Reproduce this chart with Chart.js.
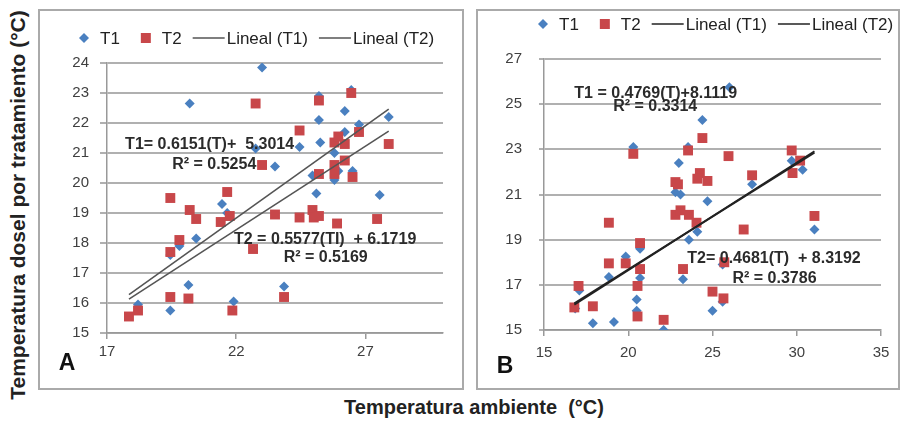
<!DOCTYPE html>
<html>
<head>
<meta charset="utf-8">
<script src="https://cdn.jsdelivr.net/npm/chart.js@4.4.1/dist/chart.umd.min.js"></script>
<style>
body { margin:0; width:901px; height:421px; background:#fff; position:relative; overflow:hidden; font-family:"Liberation Sans", Arial, sans-serif; }
.panel { position:absolute; top:9px; height:381px; border:2px solid #aaaaaa; box-sizing:border-box; }
#panelA { left:38px; width:426px; }
#panelB { left:476px; width:424px; }
.panel canvas { position:absolute; left:0; top:0; }
.tag { position:absolute; font-weight:bold; font-size:23px; color:#111; transform:translate(-50%,-50%); }
#ytitle { position:absolute; left:18px; top:205px; transform:translate(-50%,-50%) rotate(-90deg); white-space:pre; font-weight:bold; font-size:21px; color:#222; }
#xtitle { position:absolute; left:474px; top:407px; transform:translate(-50%,-50%); white-space:pre; font-weight:bold; font-size:20px; color:#222; }
</style>
</head>
<body>
<div id="panelA" class="panel"><canvas id="chartA" width="422" height="377"></canvas></div>
<div id="panelB" class="panel"><canvas id="chartB" width="420" height="377"></canvas></div>
<div class="tag" style="left:67px;top:362px">A</div>
<div class="tag" style="left:505px;top:365px">B</div>
<div id="ytitle">Temperatura dosel por tratamiento (°C)</div>
<div id="xtitle">Temperatura ambiente  (°C)</div>
<script>
// ---------- panel A data ----------
var ambA_T1 = [23.0, 20.2, 25.2, 26.45, 26.2, 27.9, 25.2, 26.75, 25.25, 26.2, 22.75, 24.45, 23.5, 25.8, 25.95,
    26.5, 25.8, 24.95, 25.1, 27.55, 21.45, 21.65, 20.45, 19.8, 19.45, 20.15, 18.2, 19.45, 21.9, 23.85];
var doselA_T1 = [23.85, 22.65, 22.9, 23.1, 22.4, 22.2, 22.1, 21.95, 21.35, 21.7, 21.15, 21.2, 20.55, 21.0, 20.4,
    20.4, 20.1, 20.25, 19.65, 19.6, 19.3, 19.0, 18.15, 17.9, 17.6, 16.6, 15.95, 15.75, 16.05, 16.55];
var ambA_T2 = [22.75, 25.2, 26.45, 24.45, 26.75, 27.9, 25.8, 25.95, 26.2, 23.0, 25.8, 26.2, 25.8, 25.2, 26.5,
    19.45, 21.65, 20.2, 20.45, 21.4, 21.75, 19.8, 19.45, 22.65, 23.5, 24.45, 24.95, 25.0, 25.2, 25.9,
    27.45, 19.45, 20.15, 21.85, 18.2, 17.85, 23.85];
var doselA_T2 = [22.65, 22.75, 23.0, 21.75, 21.7, 21.3, 21.35, 21.55, 21.3, 20.6, 20.6, 20.75, 20.3, 20.3, 20.2,
    19.5, 19.7, 19.1, 18.8, 18.7, 18.9, 18.1, 17.7, 17.8, 18.95, 18.85, 19.1, 18.85, 18.9, 18.65,
    18.8, 16.2, 16.15, 15.75, 15.75, 15.55, 16.2];
var fitA_T1 = [0.6151, 5.3014];   // slope, intercept
var fitA_T2 = [0.5577, 6.1719];
var xTicksA = [17, 22, 27];
var yTicksA = [15, 16, 17, 18, 19, 20, 21, 22, 23, 24];

// ---------- panel B data ----------
var ambB_T1 = [26.0, 24.4, 20.3, 23.0, 23.55, 29.7, 30.35, 27.35, 22.8, 23.1, 24.7, 31.05, 23.6, 24.1, 19.85,
    20.7, 18.85, 20.7, 23.25, 17.1, 20.5, 20.5, 16.85, 17.9, 19.15, 22.1, 25.0, 25.6, 25.6];
var doselB_T1 = [25.75, 24.3, 23.1, 22.4, 23.1, 22.5, 22.1, 21.45, 21.1, 21.0, 20.7, 19.45, 19.0, 19.35, 18.25,
    18.6, 17.35, 17.3, 17.25, 16.75, 16.35, 15.85, 15.95, 15.3, 15.35, 15.0, 15.85, 16.25, 17.9];
var ambB_T2 = [20.3, 23.55, 24.4, 25.95, 29.7, 30.2, 29.75, 27.35, 22.8, 22.95, 24.25, 24.1, 24.7, 22.8, 23.1,
    23.6, 24.05, 26.85, 31.05, 18.85, 20.7, 18.85, 19.85, 20.7, 23.25, 20.55, 17.05, 16.8, 17.9, 20.55,
    22.1, 25.0, 25.65, 25.7];
var doselB_T2 = [22.8, 22.95, 23.5, 22.7, 22.95, 22.5, 21.95, 21.85, 21.55, 21.45, 21.95, 21.7, 21.6, 20.1, 20.3,
    20.1, 19.75, 19.45, 20.05, 19.75, 18.85, 17.95, 17.95, 17.7, 17.7, 16.95, 16.95, 16.0, 16.05, 15.6,
    15.45, 16.7, 16.4, 18.0];
var fitB_T1 = [0.4769, 8.1119];
var fitB_T2 = [0.4681, 8.3192];
var xTicksB = [15, 20, 25, 30, 35];
var yTicksB = [15, 17, 19, 21, 23, 25, 27];

var FONT = '"Liberation Sans", Arial, sans-serif';
var BLUE = '#4a80c0';
var RED = '#c8474a';

function pairs (xs, ys) {
    return xs.map(function (x, i) { return { x: x, y: ys[i] }; });
}

// trend line over the ambient range of the panel
function trend (fit, xsA, xsB) {
    var all = xsA.concat(xsB);
    var lo = Math.min.apply(null, all), hi = Math.max.apply(null, all);
    return [{ x: lo, y: fit[0] * lo + fit[1] }, { x: hi, y: fit[0] * hi + fit[1] }];
}

// Excel like legend drawn along the top of the panel
var excelLegend = {
    id: 'excelLegend',
    afterDraw: function (chart, args, opts) {
        var ctx = chart.ctx;
        var x = opts.x, y = opts.y;
        ctx.save();
        ctx.font = '17px ' + FONT;
        ctx.textBaseline = 'middle';
        chart.data.datasets.forEach(function (ds, i) {
            var w = ctx.measureText(ds.label).width;
            if (ds.showLine) {
                x += 11;
                ctx.strokeStyle = ds.borderColor;
                ctx.lineWidth = 1.5;
                ctx.beginPath();
                ctx.moveTo(x, y);
                ctx.lineTo(x + 32, y);
                ctx.stroke();
                ctx.fillStyle = '#222';
                ctx.fillText(ds.label, x + 34, y + 1);
                x += 34 + w;
            } else {
                if (i > 0) x += 21;
                ctx.fillStyle = ds.backgroundColor;
                ctx.beginPath();
                if (ds.pointStyle === 'rectRot') {
                    ctx.moveTo(x + 5, y - 5); ctx.lineTo(x + 10, y);
                    ctx.lineTo(x + 5, y + 5); ctx.lineTo(x, y);
                } else {
                    ctx.rect(x, y - 5, 10, 10);
                }
                ctx.fill();
                ctx.fillStyle = '#222';
                ctx.fillText(ds.label, x + 21, y + 1);
                x += 21 + w;
            }
        });
        ctx.restore();
    }
};

// regression equations written over the plot
var equations = {
    id: 'equations',
    afterDraw: function (chart, args, opts) {
        var ctx = chart.ctx;
        var xs = chart.scales.x, ys = chart.scales.y;
        ctx.save();
        ctx.font = 'bold 16px ' + FONT;
        ctx.fillStyle = '#2b2b2b';
        ctx.textAlign = 'center';
        ctx.textBaseline = 'middle';
        opts.labels.forEach(function (l) {
            ctx.fillText(l.text, xs.getPixelForValue(l.x), ys.getPixelForValue(l.y));
        });
        ctx.restore();
    }
};

function makePanel (id, p) {
    var ctx = document.getElementById(id).getContext('2d');
    return new Chart(ctx, {
        type: 'scatter',
        data: {
            datasets: [
                { label: 'T1', data: pairs(p.x1, p.y1), pointStyle: 'rectRot', pointRadius: 5,
                  backgroundColor: BLUE, borderWidth: 0, order: 3 },
                { label: 'T2', data: pairs(p.x2, p.y2), pointStyle: 'rect', pointRadius: 7,
                  backgroundColor: RED, borderWidth: 0, order: 2 },
                { label: 'Lineal (T1)', data: trend(p.fit1, p.x1, p.x2), showLine: true, pointRadius: 0,
                  borderColor: p.lineColor, borderWidth: p.lineWidth, order: 1 },
                { label: 'Lineal (T2)', data: trend(p.fit2, p.x1, p.x2), showLine: true, pointRadius: 0,
                  borderColor: p.lineColor, borderWidth: p.lineWidth, order: 0 }
            ]
        },
        options: {
            responsive: false,
            animation: false,
            events: [],
            layout: { padding: { top: p.padTop, right: p.padRight, left: 0, bottom: 0 } },
            plugins: {
                legend: { display: false },
                tooltip: { enabled: false },
                excelLegend: { x: p.legendX, y: p.legendY },
                equations: { labels: p.labels }
            },
            scales: {
                x: {
                    type: 'linear',
                    min: p.xMin, max: p.xMax,
                    afterBuildTicks: function (s) { s.ticks = p.xTicks.map(function (v) { return { value: v }; }); },
                    afterFit: function (s) { s.height = p.xAxisH; },
                    grid: { drawOnChartArea: false, drawTicks: true, tickLength: 6, color: '#999', lineWidth: 1.5 },
                    border: { color: '#999', width: 1.5 },
                    ticks: { padding: p.xPad, color: '#404040', font: { family: FONT, size: 15 } }
                },
                y: {
                    min: p.yMin, max: p.yMax,
                    afterBuildTicks: function (s) { s.ticks = p.yTicks.map(function (v) { return { value: v }; }); },
                    afterFit: function (s) { s.width = p.yAxisW; },
                    grid: { color: '#b0b0b0', lineWidth: 2, tickLength: p.yTick },
                    border: { color: '#999', width: 1.5 },
                    ticks: { padding: p.yPad, color: '#404040', font: { family: FONT, size: 15 } }
                }
            }
        },
        plugins: [excelLegend, equations]
    });
}

makePanel('chartA', {
    x1: ambA_T1, y1: doselA_T1, x2: ambA_T2, y2: doselA_T2, fit1: fitA_T1, fit2: fitA_T2,
    xMin: 17, xMax: 30, yMin: 15, yMax: 24, xTicks: xTicksA, yTicks: yTicksA,
    padTop: 52, padRight: 19, xAxisH: 55, yAxisW: 67, xPad: 4, yPad: 11, yTick: 7,
    lineColor: '#555', lineWidth: 1.6, legendX: 39, legendY: 27,
    labels: [
        { text: 'T1= 0.6151(T)+  5.3014', x: 20.97, y: 21.27 },
        { text: 'R² = 0.5254', x: 21.15, y: 20.6 },
        { text: 'T2 = 0.5577(TI)  + 6.1719', x: 25.44, y: 18.13 },
        { text: 'R² = 0.5169', x: 25.46, y: 17.51 }
    ]
});

makePanel('chartB', {
    x1: ambB_T1, y1: doselB_T1, x2: ambB_T2, y2: doselB_T2, fit1: fitB_T1, fit2: fitB_T2,
    xMin: 15, xMax: 35, yMin: 15, yMax: 27, xTicks: xTicksB, yTicks: yTicksB,
    padTop: 48, padRight: 17, xAxisH: 58, yAxisW: 66, xPad: 8, yPad: 17, yTick: 5,
    lineColor: '#222', lineWidth: 1.8, legendX: 60, legendY: 13,
    labels: [
        { text: 'T1 = 0.4769(T)+8.1119', x: 21.63, y: 25.45 },
        { text: 'R² = 0.3314', x: 21.6, y: 24.88 },
        { text: 'T2= 0.4681(T)  + 8.3192', x: 28.65, y: 18.18 },
        { text: 'R² = 0.3786', x: 28.68, y: 17.29 }
    ]
});
</script>
</body>
</html>
